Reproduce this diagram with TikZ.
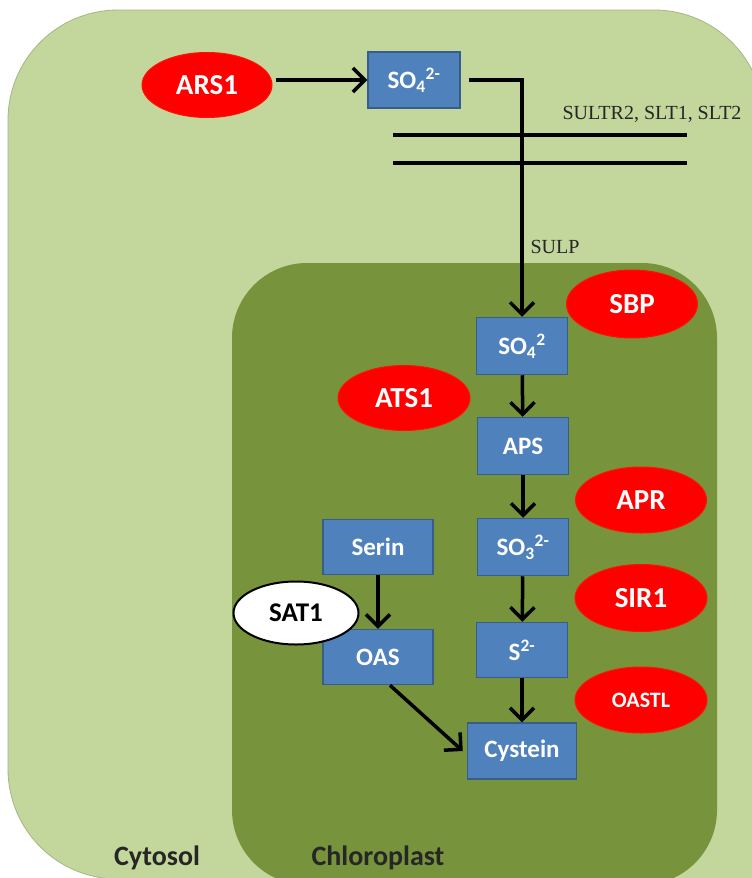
\documentclass[tikz,border=0pt]{standalone}
\usepackage{fontspec}
\setmainfont{Carlito}
\newfontfamily\labelserif{Liberation Serif}
\usetikzlibrary{arrows.meta,shapes.geometric}
\definecolor{cytogreen}{HTML}{C3D69B}
\definecolor{chlorogreen}{HTML}{77933C}
\definecolor{boxblue}{HTML}{4F81BD}
\definecolor{boxedge}{HTML}{385D8A}
\definecolor{enzred}{HTML}{FF0000}
\begin{document}
\begin{tikzpicture}[x=1pt, y=-1pt,
    every node/.style={font=\bfseries},
    metab/.style={draw=boxedge, fill=boxblue, line width=1.5pt, text=white, inner sep=0pt,
      minimum width=91pt, minimum height=57pt, font=\bfseries\fontsize{25}{28}\selectfont},
    enzyme/.style={ellipse, draw=red!85!orange, fill=enzred, line width=1pt, text=white, inner sep=0pt,
      minimum width=131pt, minimum height=66pt, font=\bfseries\fontsize{29}{32}\selectfont},
    flow/.style={line width=3.5pt, -{Straight Barb[length=12pt,width=24pt]}},
    membrane/.style={line width=3.5pt}]
  \useasboundingbox (0,0) rectangle (752,878);
  \fill[white] (0,0) rectangle (752,878);
  % cell compartments
  \filldraw[fill=cytogreen, draw=cytogreen!85!black, line width=0.8pt, rounded corners=110pt]
    (8,10) rectangle (764,879);
  \fill[cytogreen] (400,600) rectangle (770,880);
  \fill[chlorogreen, rounded corners=75pt] (232,263) rectangle (717,885);
  \node[text=black!85, font=\bfseries\fontsize{28}{30}\selectfont] (cyto) at (157,858) {Cytosol};
  \node[text=black!85, font=\bfseries\fontsize{28}{30}\selectfont] (chloro) at (378,858) {Chloroplast};

  % transporters in the plasma membrane
  \draw[membrane] (393,135) -- (687,135);
  \draw[membrane] (393,163) -- (687,163);
  \node[anchor=east, text=black!85, font=\labelserif\fontsize{20}{22}\selectfont] (sultr) at (745,114) {SULTR2, SLT1, SLT2};
  \node[anchor=west, text=black!85, font=\labelserif\fontsize{20}{22}\selectfont] (sulp) at (527,247) {SULP};

  % metabolites
  \node[metab, minimum width=92pt, minimum height=56pt] (so4a) at (414,80) {SO\textsubscript{4}\textsuperscript{2-}};
  \node[metab] (so4b) at (522,346) {SO\textsubscript{4}\textsuperscript{2}};
  \node[metab] (aps) at (523,446) {APS};
  \node[metab] (so3) at (523,547) {SO\textsubscript{3}\textsuperscript{2-}};
  \node[metab, minimum height=55pt] (s2) at (522,650) {S\textsuperscript{2-}};
  \node[metab, minimum width=109pt, minimum height=56pt] (cys) at (522,751) {Cystein};
  \node[metab, minimum width=110pt, minimum height=55pt] (serin) at (378,547) {Serin};
  \node[metab, minimum width=110pt, minimum height=55pt] (oas) at (378,657) {OAS};

  % enzymes
  \node[enzyme, minimum width=130pt, minimum height=65pt] (ars) at (207,85) {ARS1};
  \node[enzyme, minimum height=68pt] (sbp) at (632,304) {SBP};
  \node[enzyme, minimum width=132pt, minimum height=65pt] (ats) at (404,398) {ATS1};
  \node[enzyme] (apr) at (641,500) {APR};
  \node[enzyme, minimum width=132pt, minimum height=67pt] (sir) at (641,598) {SIR1};
  \node[enzyme, minimum width=132pt, font=\bfseries\fontsize{22}{24}\selectfont] (oastl) at (641,700) {OASTL};

  % pathway
  \draw[flow] ([xshift=3pt]ars.east |- so4a.west) -- (so4a.west);
  \draw[flow] ([xshift=8pt]so4a.east) -| (so4b.north);
  \draw[flow] (so4b) -- (aps);
  \draw[flow] (aps) -- (so3);
  \draw[flow] (so3) -- (s2);
  \draw[flow] (s2) -- (cys);
  \draw[flow] (serin) -- (oas);
  \draw[flow] ([xshift=12pt]oas.south) -- ([xshift=-4pt]cys.west);

  \node[ellipse, draw=black, fill=white, line width=2pt, inner sep=0pt, minimum width=125pt,
    minimum height=63pt, font=\bfseries\fontsize{27}{30}\selectfont] (sat) at (296,613) {SAT1};
\end{tikzpicture}
\end{document}
